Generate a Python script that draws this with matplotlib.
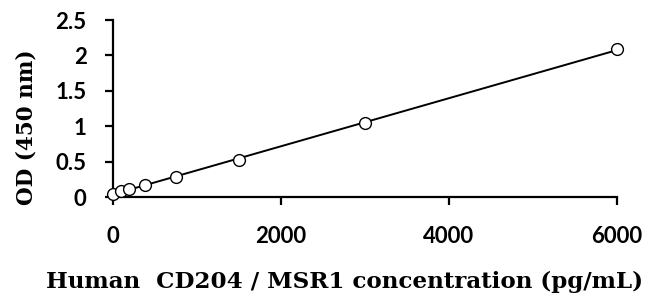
import numpy as np
import matplotlib
matplotlib.use('Agg')
import matplotlib.pyplot as plt

# standard curve data
conc = [0, 93.75, 187.5, 375, 750, 1500, 3000, 6000]
od = [0.04, 0.08, 0.12, 0.17, 0.29, 0.52, 1.04, 2.09]

x_ticks = [0, 2000, 4000, 6000]
y_ticks = [0, 0.5, 1, 1.5, 2, 2.5]
y_tick_labels = ['0', '0.5', '1', '1.5', '2', '2.5']

fig = plt.figure(figsize=(6.5, 2.95), dpi=100)
ax = fig.add_axes([0.174, 0.332, 0.775, 0.6])

# linear trendline through the points
fit = np.polyfit(conc, od, 1)
xs = np.array([0, 6000])
ax.plot(xs, np.polyval(fit, xs), color='black', lw=1.4, zorder=2)
ax.plot(conc, od, 'o', mfc='white', mec='black', ms=8.5, mew=1.0,
        clip_on=False, zorder=3)

ax.set_xlim(0, 6000)
ax.set_ylim(0, 2.5)
ax.set_xticks(x_ticks)
ax.set_yticks(y_ticks)
ax.set_yticklabels(y_tick_labels)

for s in ['top', 'right']:
    ax.spines[s].set_visible(False)
for s in ['left', 'bottom']:
    ax.spines[s].set_linewidth(1.6)

ax.tick_params(axis='both', direction='out', length=6, width=1.6,
               labelsize=16, pad=13)
ax.tick_params(axis='x', pad=15)
for lab in ax.get_xticklabels() + ax.get_yticklabels():
    lab.set_fontfamily('Lato')
    lab.set_fontweight('bold')

# axis titles placed in figure coordinates
fig.text(345 / 650, 1 - 288 / 295, 'Human  CD204 / MSR1 concentration (pg/mL)',
         fontsize=16.6, fontweight='bold', fontfamily='DejaVu Serif',
         ha='center', va='baseline')
fig.text(32 / 650, 1 - 127 / 295, 'OD (450 nm)', rotation=90,
         fontsize=15.5, fontweight='bold', fontfamily='DejaVu Serif',
         ha='center', va='baseline', rotation_mode='anchor')

plt.savefig('out.png', dpi=100)
